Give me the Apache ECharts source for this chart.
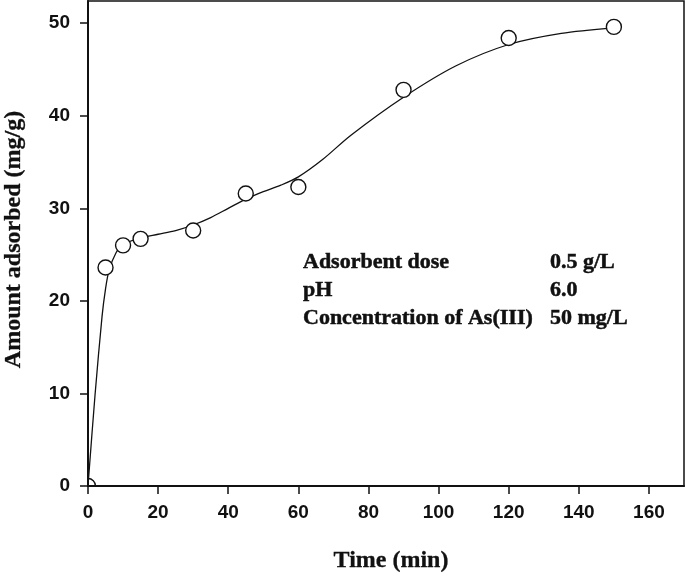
<!DOCTYPE html>
<html>
<head>
<meta charset="utf-8">
<script src="https://cdn.jsdelivr.net/npm/echarts@6/dist/echarts.min.js"></script>
<style>
  html, body { margin: 0; padding: 0; background: #fff; }
  #chart { width: 685px; height: 579px; }
</style>
</head>
<body>
<div id="chart"></div>
<script>
// measured points
var timeMin = [0, 5, 10, 15, 30, 45, 60, 90, 120, 150];
var amount = [0, 23.6, 26.0, 26.7, 27.6, 31.6, 32.3, 42.8, 48.4, 49.6];

// fitted curve
var fitTime = [0, 2, 4, 5, 6, 8, 10, 15, 20, 25, 30, 35, 40, 45, 50, 55, 60, 67, 75, 90, 105, 120, 135, 150];
var fitAmount = [0, 9.8, 18.3, 21.3, 23.3, 25.2, 26.1, 26.8, 27.2, 27.6, 28.2, 29.0, 30.0, 31.0, 31.8, 32.5, 33.4, 35.3, 37.9, 42.0, 45.4, 47.7, 48.9, 49.5];

var xTicks = [0, 20, 40, 60, 80, 100, 120, 140, 160];
var yTicks = [0, 10, 20, 30, 40, 50];

var noteLabels = ['Adsorbent dose', 'pH', 'Concentration of As(III)'];
var noteValues = ['0.5 g/L', '6.0', '50 mg/L'];

var ink = '#111';
var sans = 'Liberation Sans';
var serif = 'Liberation Serif';

var pts = timeMin.map(function (t, i) { return [t, amount[i]]; });
var fit = fitTime.map(function (t, i) { return [t, fitAmount[i]]; });

// text looks heavy in the original, thicken a little with a thin border
function noteStyle() {
  return { fontFamily: serif, fontWeight: 700, fontSize: 22, color: ink,
    textBorderColor: ink, textBorderWidth: 0.5 };
}
var titles = [];
noteLabels.forEach(function (txt, i) {
  var top = 251 + i * 28;
  titles.push({ text: txt, left: 303, top: top, padding: 0, textStyle: noteStyle() });
  titles.push({ text: noteValues[i], left: 550, top: top, padding: 0, textStyle: noteStyle() });
});

var nameStyle = { fontFamily: serif, fontWeight: 'bold', fontSize: 24, color: ink,
  textBorderColor: ink, textBorderWidth: 0.3 };

var myChart = echarts.init(document.getElementById('chart'));
myChart.setOption({
  animation: false,
  title: titles,
  grid: {
    left: 88, right: 1, top: 1, bottom: 93,
    show: true, borderColor: ink, borderWidth: 1.5,
    containLabel: false, outerBoundsMode: 'none'
  },
  xAxis: {
    type: 'value', min: 0, max: 170, z: 5,
    name: 'Time (min)', nameLocation: 'middle', nameGap: 63,
    nameTextStyle: Object.assign({ padding: [0, 0, 0, 10] }, nameStyle),
    splitLine: { show: false },
    axisLine: { lineStyle: { color: ink, width: 2 } },
    axisTick: { length: 8, lineStyle: { color: ink, width: 1.5 }, customValues: xTicks },
    axisLabel: { customValues: xTicks, margin: 17, fontFamily: sans, fontWeight: 'bold', fontSize: 19, color: ink }
  },
  yAxis: {
    type: 'value', min: 0, max: 52.4, z: 5,
    name: 'Amount adsorbed (mg/g)', nameLocation: 'middle', nameGap: 62,
    nameTextStyle: Object.assign({ padding: [0, 0, 0, 8] }, nameStyle),
    splitLine: { show: false },
    axisLine: { lineStyle: { color: ink, width: 2 } },
    axisTick: { length: 8, lineStyle: { color: ink, width: 1.5 }, customValues: yTicks },
    axisLabel: { customValues: yTicks, margin: 18, fontFamily: sans, fontWeight: 'bold', fontSize: 19, color: ink }
  },
  series: [
    {
      type: 'line',
      data: fit,
      smooth: 0.3,
      showSymbol: false,
      lineStyle: { color: ink, width: 1.3 },
      z: 2
    },
    {
      type: 'custom',
      data: pts,
      clip: true,
      encode: { x: 0, y: 1 },
      renderItem: function (params, api) {
        var p = api.coord([api.value(0), api.value(1)]);
        return {
          type: 'circle',
          shape: { cx: p[0], cy: p[1], r: 7.5 },
          style: { fill: '#fff', stroke: ink, lineWidth: 1.4 }
        };
      },
      z: 3
    }
  ]
});
</script>
</body>
</html>
